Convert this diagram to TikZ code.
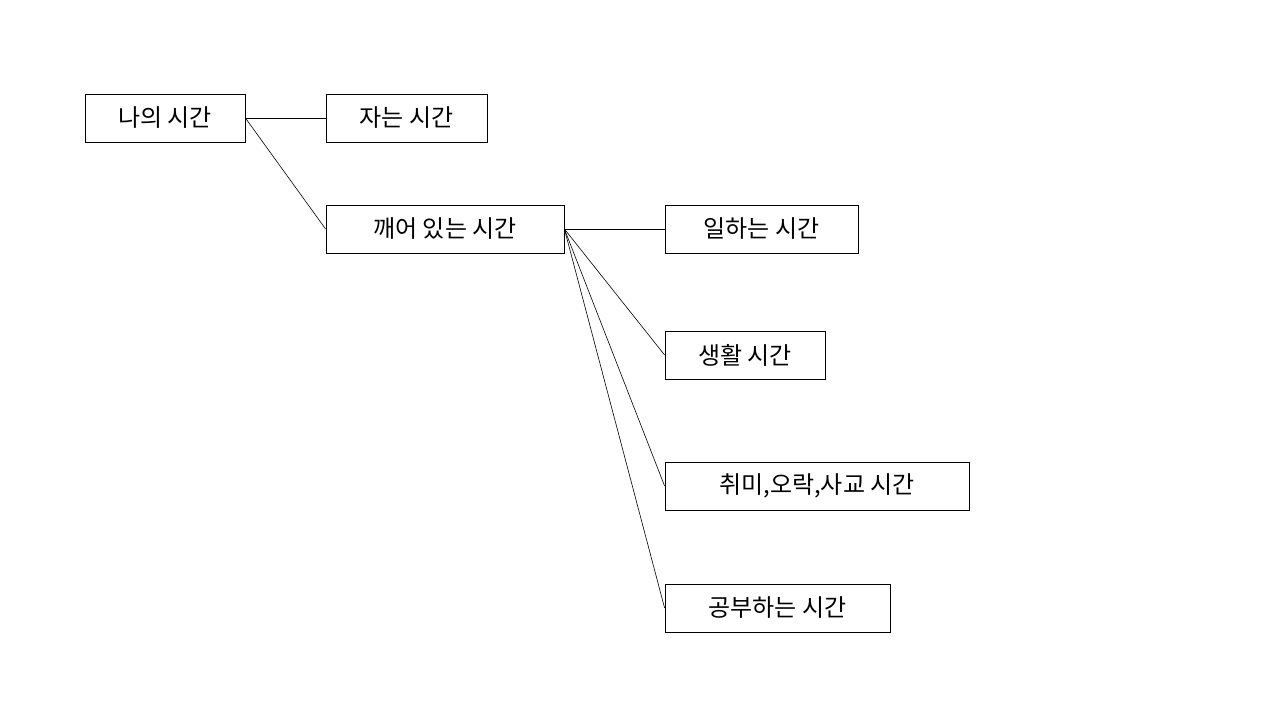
\documentclass[tikz,border=0pt]{standalone}
\usepackage{fontspec}
\setmainfont{Noto Sans CJK KR}
\begin{document}
\begin{tikzpicture}[x=1pt,y=-1pt,
  box/.style={draw,line width=0.8pt,inner sep=0pt,minimum height=48pt,font=\fontsize{24}{28}\selectfont},
  link/.style={line width=0.6pt}]
\useasboundingbox (0,0) rectangle (1280,720);
\node[box,minimum width=160pt] (a) at (165,118) {나의 시간};
\node[box,minimum width=161pt] (b) at (406.5,118) {자는 시간};
\node[box,minimum width=238pt] (c) at (445,229) {깨어 있는 시간};
\node[box,minimum width=193pt] (d) at (761.5,229) {일하는 시간};
\node[box,minimum width=160pt] (e) at (745,355) {생활 시간};
\node[box,minimum width=304pt] (f) at (817,486) {취미,오락,사교 시간};
\node[box,minimum width=225pt] (g) at (777.5,608) {공부하는 시간};
\draw[link] (a.east) -- (b.west);
\draw[link] (a.east) -- (c.west);
\draw[link] (c.east) -- (d.west);
\draw[link] (c.east) -- (e.west);
\draw[link] (c.east) -- (f.west);
\draw[link] (c.east) -- (g.west);
\end{tikzpicture}
\end{document}
